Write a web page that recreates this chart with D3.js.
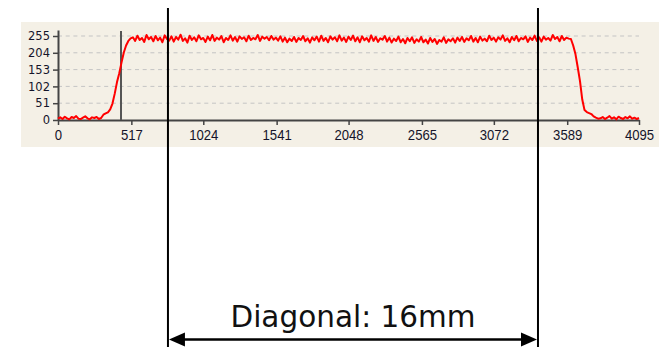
<!DOCTYPE html>
<html>
<head>
<meta charset="utf-8">
<script src="https://cdn.jsdelivr.net/npm/d3@7"></script>
<style>
  html, body { margin: 0; padding: 0; background: #ffffff; }
  svg { display: block; }
</style>
</head>
<body>
<svg id="chart" width="661" height="347"></svg>
<script>
(function () {
  'use strict';

  // x ticks and y ticks as shown in the profile view
  const xTicks = [0, 517, 1024, 1541, 2048, 2565, 3072, 3589, 4095];
  const yTicks = [0, 51, 102, 153, 204, 255];

  // intensity profile (evenly spaced samples over 0..4095)
  const signal = [
    4, 8, 3, 10, 5, 2, 9, 6, 12, 4, 3, 7, 11, 5, 2, 8, 6, 9, 3, 6,
    16, 20, 23, 32, 50, 80, 115, 142, 175, 205, 226, 240, 248,
    251, 240, 256, 243, 249, 237, 258, 245, 252, 239, 255, 242, 250, 236, 257, 246,
    241, 254, 238, 252, 244, 259, 240, 248, 235, 256, 243, 251, 239, 257, 245, 249,
    237, 253, 242, 258, 240, 250, 244, 255, 236, 249, 243, 257, 241, 252, 238, 254,
    246, 251, 239, 256, 243, 249, 245, 258, 240, 253, 247, 252, 242, 255, 244, 250,
    241, 254, 238, 250, 236, 247, 240, 252, 237, 249, 243, 255, 239, 248, 235, 251,
    242, 253, 238, 256, 240, 249, 236, 254, 244, 251, 239, 257, 241, 250, 237, 253,
    243, 256, 239, 251, 236, 254, 242, 249, 238, 257, 240, 252, 237, 248, 244, 255,
    238, 250, 235, 247, 240, 253, 236, 246, 233, 249, 239, 251, 234, 245, 238, 252,
    236, 244, 232, 249, 237, 246, 231, 243, 238, 251, 234, 245, 239, 248, 235, 250,
    240, 252, 237, 248, 242, 255, 238, 249, 236, 253, 241, 247, 239, 256, 243, 250,
    238, 251, 244, 257, 240, 248, 236, 252, 242, 255, 239, 249, 245, 254, 237, 250,
    243, 256, 240, 251, 238, 253, 244, 249, 241, 258, 246, 252, 239, 255, 243, 250, 247,
    246, 226, 200, 160, 118, 62, 30, 24, 21, 18, 11, 7, 4,
    5, 9, 3, 7, 12, 4, 8, 2, 10, 6, 3, 9, 5, 11, 4, 7, 3, 6
  ];

  // gray cursor inside the plot and the two edges of the diagonal annotation
  const cursorAt = 444;
  const diagonalEnds = [775, 3383];
  const diagonalLabel = 'Diagonal: 16mm';

  const svg = d3.select('#chart');
  const step = 4095 / (signal.length - 1);
  const plain = d3.format('d');

  const x = d3.scaleLinear().domain([0, 4095]).range([58, 639]);
  const y = d3.scaleLinear().domain([0, 273.2]).range([120, 30]);

  // panel background
  svg.append('rect')
    .attr('x', 21).attr('y', 22)
    .attr('width', 638).attr('height', 125)
    .attr('fill', '#f4f0e6');

  // dashed grid
  svg.append('g')
    .selectAll('line')
    .data(yTicks.filter((d) => d > 0))
    .join('line')
    .attr('x1', x(0)).attr('x2', x(4095))
    .attr('y1', (d) => y(d)).attr('y2', (d) => y(d))
    .attr('stroke', '#c4c4c4')
    .attr('stroke-width', 1)
    .attr('stroke-dasharray', '4,3.7');

  // y axis
  const yAxis = svg.append('g')
    .attr('transform', `translate(${x(0)},0)`)
    .call(d3.axisLeft(y).tickValues(yTicks).tickFormat(plain).tickSize(5).tickPadding(3).tickSizeOuter(0));
  yAxis.select('.domain').attr('stroke', '#444').attr('stroke-width', 2);
  yAxis.selectAll('.tick line').attr('stroke', '#444').attr('stroke-width', 1.5);
  yAxis.selectAll('.tick text')
    .attr('fill', '#14142a')
    .attr('font-family', 'DejaVu Sans')
    .attr('font-size', 11.5);

  // x axis
  const xAxis = svg.append('g')
    .attr('transform', `translate(0,${y(0)})`)
    .call(d3.axisBottom(x).tickValues(xTicks).tickFormat(plain).tickSize(5).tickPadding(4).tickSizeOuter(0));
  xAxis.select('.domain').attr('stroke', '#444').attr('stroke-width', 2);
  xAxis.selectAll('.tick line').attr('stroke', '#444').attr('stroke-width', 1.5);
  xAxis.selectAll('.tick text')
    .attr('fill', '#14142a')
    .attr('font-family', 'Liberation Sans')
    .attr('font-size', 15)
    .attr('textLength', (d) => String(d).length * 7.3)
    .attr('lengthAdjust', 'spacingAndGlyphs');
  svg.selectAll('.domain').attr('fill', 'none');

  // cursor
  svg.append('line')
    .attr('x1', x(cursorAt)).attr('x2', x(cursorAt))
    .attr('y1', 31).attr('y2', y(0))
    .attr('stroke', '#555')
    .attr('stroke-width', 2);

  // profile line
  const line = d3.line()
    .x((d, i) => x(Math.min(i * step, 4095)))
    .y((d) => y(d));

  svg.append('path')
    .datum(signal)
    .attr('d', line)
    .attr('fill', 'none')
    .attr('stroke', '#ff0000')
    .attr('stroke-width', 2)
    .attr('stroke-linejoin', 'round');

  // annotation: two vertical edges with a double arrow and label
  const left = x(diagonalEnds[0]);
  const right = x(diagonalEnds[1]);
  const arrowY = 339.5;

  svg.append('g')
    .selectAll('line')
    .data(diagonalEnds)
    .join('line')
    .attr('x1', (d) => x(d)).attr('x2', (d) => x(d))
    .attr('y1', 8).attr('y2', 347)
    .attr('stroke', '#000')
    .attr('stroke-width', 2);

  svg.append('line')
    .attr('x1', left + 10).attr('x2', right - 10)
    .attr('y1', arrowY).attr('y2', arrowY)
    .attr('stroke', '#000')
    .attr('stroke-width', 2.6);

  svg.append('path')
    .attr('d', `M${left + 1},${arrowY}L${left + 17},${arrowY - 7}L${left + 17},${arrowY + 7}Z`)
    .attr('fill', '#000');
  svg.append('path')
    .attr('d', `M${right - 1},${arrowY}L${right - 17},${arrowY - 7}L${right - 17},${arrowY + 7}Z`)
    .attr('fill', '#000');

  svg.append('text')
    .attr('x', (left + right) / 2)
    .attr('y', 327)
    .attr('text-anchor', 'middle')
    .attr('font-family', 'DejaVu Sans')
    .attr('font-size', 29.5)
    .attr('fill', '#111')
    .text(diagonalLabel);
})();
</script>
</body>
</html>
